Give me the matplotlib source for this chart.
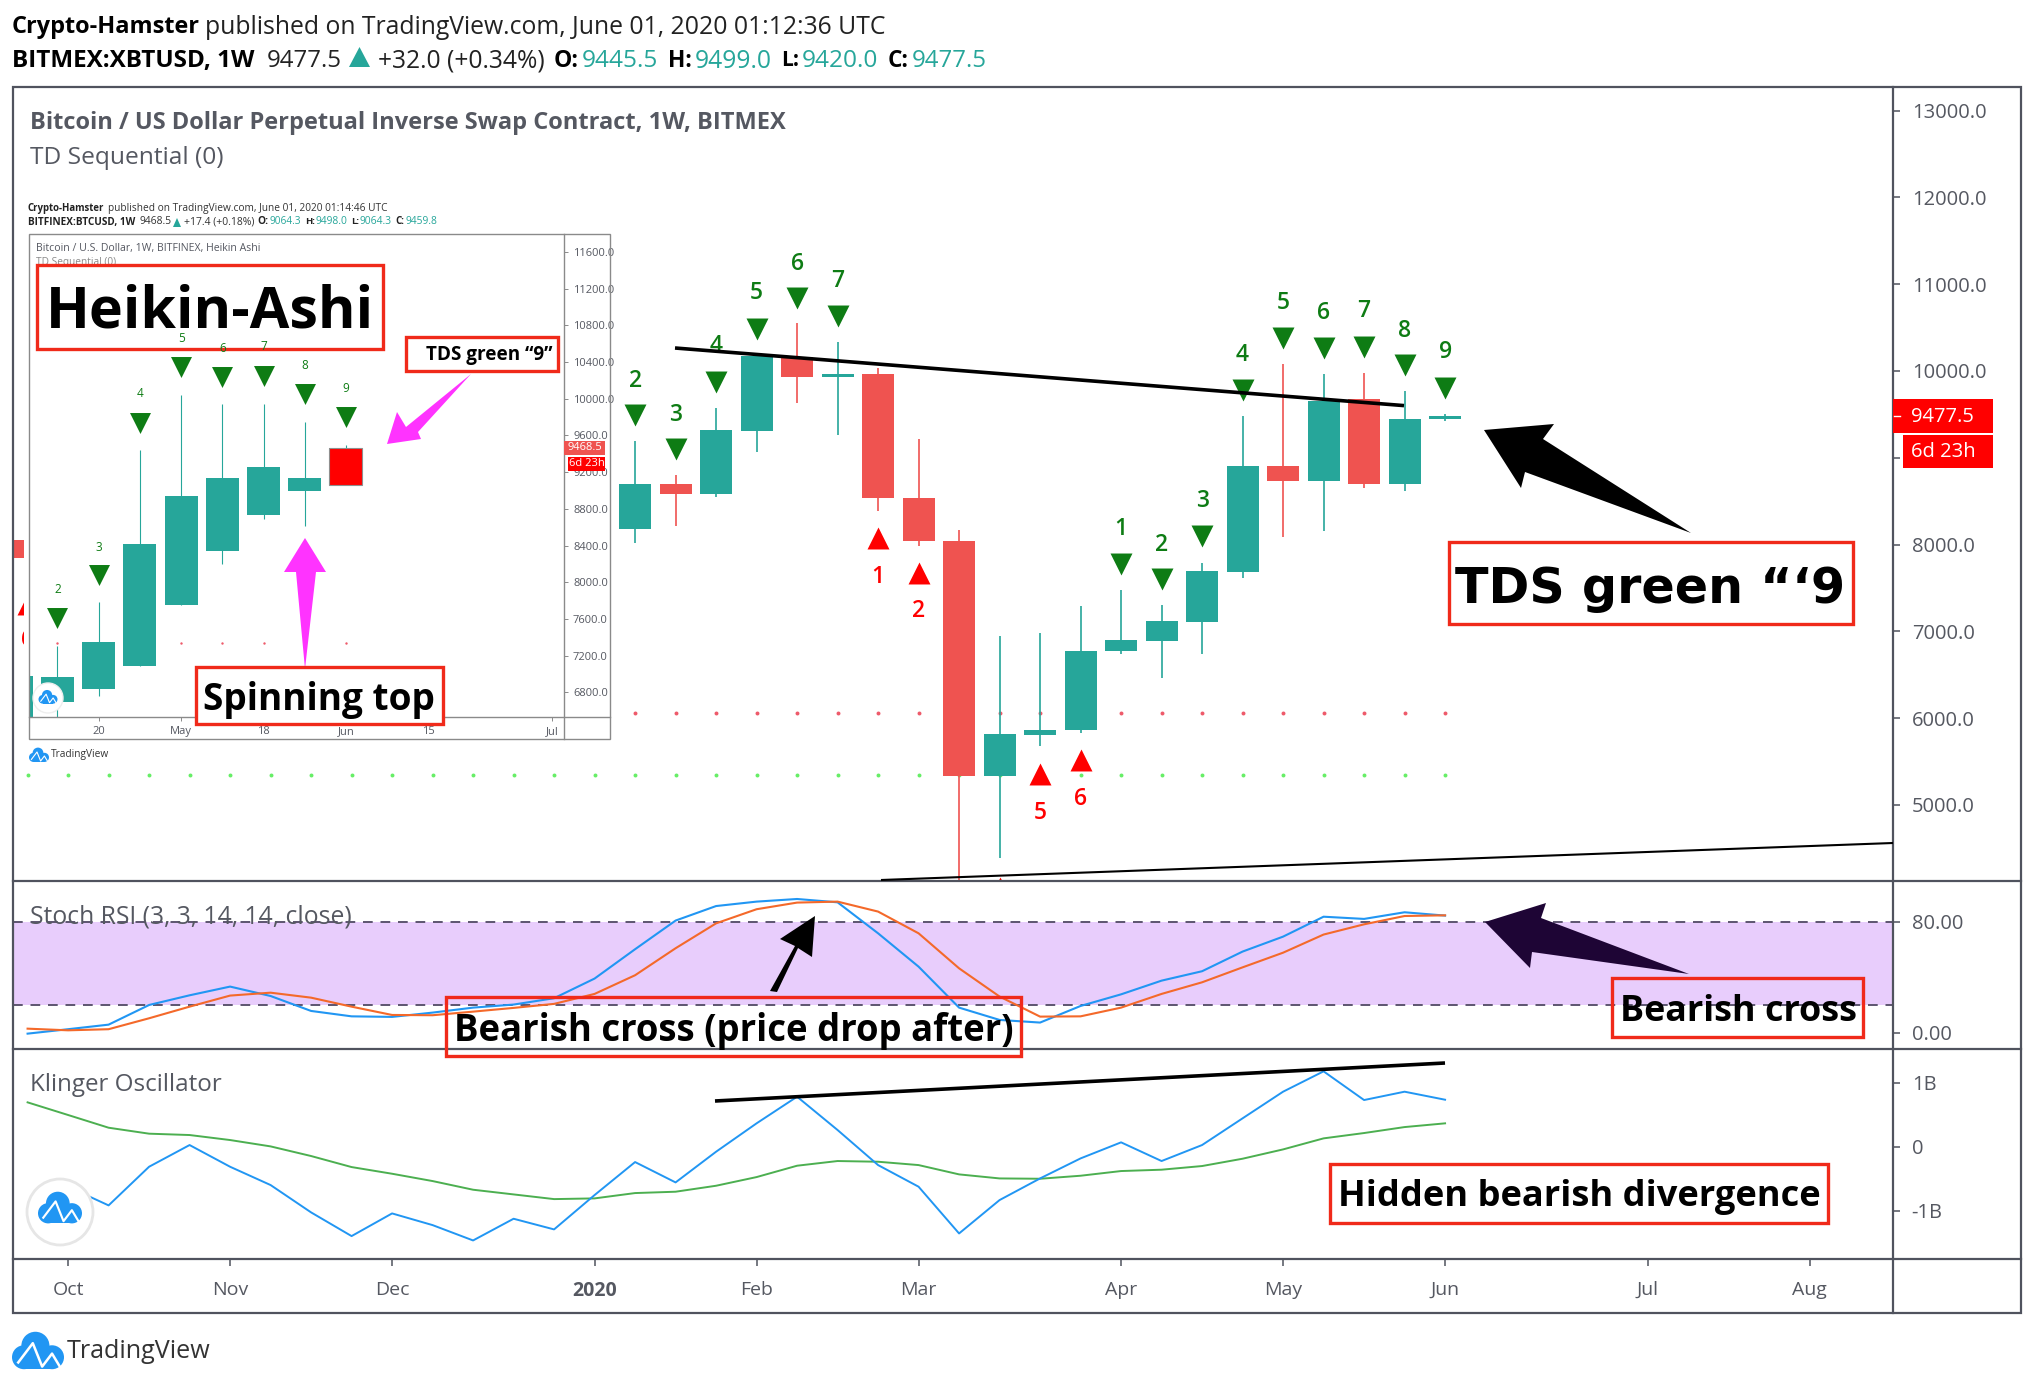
import matplotlib
matplotlib.use('Agg')
import matplotlib.pyplot as plt
from matplotlib.patches import Rectangle, Polygon, Circle

W, H = 2034, 1386
FONT = 'Open Sans'
plt.rcParams['font.family'] = [FONT, 'DejaVu Sans']

TEAL, RED = '#26a69a', '#ef5350'
TRI_GREEN, TRI_RED = '#0e7c14', '#ff0000'
FRAME = '#50535e'
TEXT_GREY = '#555861'

# ---------- main price pane ----------
weeks = [-35, -20, -19, -18, -17, -16, -15, -14, -13, -12, -11, -10, -9, -8, -7, -6, -5, -4, -3, -2, -1, 0]
opens = [8053, 8182, 8697, 8587, 9311, 10166, 9926, 9966, 8537, 8037, 5330, 5809, 5859, 6769, 6893, 7113, 7688, 8907, 8727, 9676, 8702, 9445.5]
closes = [7846, 8697, 8587, 9321, 10176, 9926, 9966, 8532, 8037, 5330, 5820, 5864, 6774, 6904, 7118, 7698, 8907, 8727, 9656, 8702, 9447, 9477.5]
highs = [8100, 9192, 8802, 9571, 10176, 10550, 10336, 10036, 9222, 8172, 6948, 6983, 7293, 7478, 7303, 7793, 9481, 10081, 9966, 9976, 9771, 9499]
lows = [7800, 8018, 8217, 8552, 9072, 9631, 9257, 8392, 7982, 3800, 4386, 5675, 5829, 6744, 6464, 6744, 7618, 8092, 8152, 8657, 8612, 9420]

down_weeks = [-20, -19, -18, -17, -16, -15, -8, -7, -6, -5, -4, -3, -2, -1, 0]
down_prices = [9491, 9102, 9871, 10481, 10845, 10630, 7773, 7603, 8098, 9776, 10376, 10261, 10276, 10066, 9801]
down_labels = ['2', '3', '4', '5', '6', '7', '1', '2', '3', '4', '5', '6', '7', '8', '9']
down_label_prices = [9916, 9526, 10316, 10930, 11270, 11070, 8207, 8027, 8537, 10216, 10815, 10695, 10720, 10490, 10246]
up_weeks = [-35, -14, -13, -11, -10, -9]
up_prices = [7316, 8077, 7673, 4045, 5355, 5520]
up_labels = ['6', '1', '2', '', '5', '6']
up_label_prices = [6935, 7653, 7268, 3700, 4945, 5095]
red_dot_weeks = list(range(-20, 1))
red_dot_price = 6064
green_dot_weeks = list(range(-35, 1))
green_dot_price = 5350
price_ticks = [13000, 12000, 11000, 10000, 9000, 8000, 7000, 6000, 5000]
price_tick_labels = ['13000.0', '12000.0', '11000.0', '10000.0', '', '8000.0', '7000.0', '6000.0', '5000.0']

# ---------- stochastic RSI ----------
osc_weeks = list(range(-35, 1))
stoch_k = [-0.7, 2.5, 5.8, 20.0, 27.0, 33.3, 26.5, 15.7, 11.8, 11.4, 14.5, 18.1, 20.3, 24.9, 39.1, 60.3, 81.0, 91.5,
           94.7, 96.6, 94.2, 71.8, 47.7, 18.1, 9.2, 7.3, 19.3, 27.7, 37.6, 44.4, 58.6, 69.4, 83.8, 82.2, 87.0, 84.6]
stoch_d = [2.9, 1.7, 2.5, 10.4, 18.8, 26.8, 28.9, 25.3, 18.8, 12.8, 12.6, 15.2, 17.9, 20.8, 28.0, 41.5, 61.0, 79.0,
           89.2, 94.0, 94.7, 87.5, 71.8, 46.5, 26.1, 11.6, 11.8, 18.1, 28.0, 36.4, 47.2, 57.8, 70.9, 78.3, 84.3, 84.8]

# ---------- Klinger oscillator (billions) ----------
klinger = [-0.997, -0.623, -0.914, -0.312, 0.026, -0.312, -0.597, -1.023, -1.392, -1.039, -1.221, -1.460, -1.122,
           -1.288, -0.753, -0.239, -0.556, -0.078, 0.364, 0.779, 0.260, -0.286, -0.623, -1.351, -0.831, -0.494,
           -0.182, 0.068, -0.223, 0.026, 0.442, 0.857, 1.174, 0.727, 0.857, 0.732]
klinger_signal = [0.691, 0.494, 0.296, 0.203, 0.182, 0.104, 0.005, -0.145, -0.317, -0.421, -0.535, -0.670, -0.743,
                  -0.816, -0.805, -0.722, -0.701, -0.608, -0.473, -0.296, -0.223, -0.234, -0.286, -0.431, -0.494,
                  -0.499, -0.452, -0.379, -0.358, -0.301, -0.187, -0.042, 0.130, 0.213, 0.306, 0.364]

# ---------- time axis ----------
date_ticks = [-34, -30, -26, -21, -17, -13, -8, -4, 0, 5, 9]
date_labels = ['Oct', 'Nov', 'Dec', '2020', 'Feb', 'Mar', 'Apr', 'May', 'Jun', 'Jul', 'Aug']

# ---------- inset Heikin-Ashi chart ----------
ins_weeks = [-8, -7, -6, -5, -4, -3, -2, -1, 0]
ins_opens = [6400, 6698, 6833, 7087, 7748, 8344, 8736, 8994, 9064.3]
ins_closes = [6978, 6967, 7345, 8413, 8940, 9132, 9252, 9132, 9459.8]
ins_highs = [6978, 7308, 7781, 9441, 10040, 9942, 9942, 9749, 9498]
ins_lows = [6400, 6500, 6764, 7087, 7748, 8198, 8689, 8616, 9064.3]
ins_tri_weeks = [-7, -6, -5, -4, -3, -2, -1, 0]
ins_tri_prices = [7610, 8079, 9739, 10345, 10236, 10247, 10051, 9801]
ins_tri_labels = ['2', '3', '4', '5', '6', '7', '8', '9']
ins_label_prices = [7941, 8398, 10073, 10672, 10563, 10585, 10378, 10128]
ins_dot_weeks = [-7, -4, -3, -2, 0]
ins_dot_price = 7337
ins_price_ticks = [11600, 11200, 10800, 10400, 10000, 9600, 9200, 8800, 8400, 8000, 7600, 7200, 6800]
ins_date_ticks = [-6, -4, -2, 0, 2, 5]
ins_date_labels = ['20', 'May', '18', 'Jun', '15', 'Jul']

fig = plt.figure(figsize=(W / 100, H / 100), dpi=100, facecolor='white')


def px_ax(x0, y0, x1, y1, z=1):
    a = fig.add_axes([x0 / W, 1 - y1 / H, (x1 - x0) / W, (y1 - y0) / H], zorder=z)
    for s in a.spines.values():
        s.set_visible(False)
    return a


def candles(a, xs, os_, cs, hs, ls, width, lw, colors):
    for x, o, c, h, l in zip(xs, os_, cs, hs, ls):
        col = colors[0] if c >= o else colors[1]
        a.vlines(x, l, h, color=col, lw=lw, zorder=3)
        a.bar(x, abs(c - o), bottom=min(o, c), width=width, color=col, zorder=3, lw=0)


XLIM = (-35.36, 11.06)

# main pane
ax = px_ax(13, 87, 1893, 881)
ax.set_xlim(*XLIM)
ax.set_ylim(4124, 13272)
ax.scatter(red_dot_weeks, [red_dot_price] * len(red_dot_weeks), s=8, color='#ee5a6a', lw=0, zorder=2)
ax.scatter(green_dot_weeks, [green_dot_price] * len(green_dot_weeks), s=8, color='#66ee66', lw=0, zorder=2)
candles(ax, weeks, opens, closes, highs, lows, 0.79, 1.2, (TEAL, RED))
ax.scatter(down_weeks, down_prices, marker='v', s=250, color=TRI_GREEN, lw=0, zorder=4)
ax.scatter(up_weeks, up_prices, marker='^', s=250, color=TRI_RED, lw=0, zorder=4)
for x, p, s in zip(down_weeks, down_label_prices, down_labels):
    ax.annotate(s, (x, p), xytext=(0, -2), textcoords='offset points', color=TRI_GREEN, fontsize=16.5,
                fontweight='semibold', ha='center', va='center', zorder=5)
for x, p, s in zip(up_weeks, up_label_prices, up_labels):
    if s:
        ax.annotate(s, (x, p), xytext=(0, -2), textcoords='offset points', color=TRI_RED, fontsize=16.5,
                    fontweight='semibold', ha='center', va='center', zorder=5)
ax.set_xticks([])
ax.set_yticks(price_ticks)
ax.set_yticklabels(price_tick_labels)
ax.yaxis.tick_right()
ax.tick_params(axis='y', length=5, width=1.1, color=FRAME, labelcolor=TEXT_GREY, labelsize=14.5, pad=8.5)

# stoch pane
ax2 = px_ax(13, 881, 1893, 1049)
ax2.set_xlim(*XLIM)
ax2.set_ylim(-11.8, 109.6)
ax2.axhspan(20, 80, color='#e8cdfc', lw=0, zorder=1)
ax2.hlines([20, 80], *XLIM, color='#5d5570', lw=1.4, linestyles=(0, (5, 4)), zorder=2)
ax2.plot(osc_weeks, stoch_k, color='#2196f3', lw=1.5, zorder=3)
ax2.plot(osc_weeks, stoch_d, color='#f4692a', lw=1.5, zorder=3)
ax2.set_xticks([])
ax2.set_yticks([80, 0])
ax2.set_yticklabels(['80.00', '0.00'])
ax2.yaxis.tick_right()
ax2.tick_params(axis='y', length=5, width=1.1, color=FRAME, labelcolor=TEXT_GREY, labelsize=14.5, pad=8.5)

# klinger pane
ax3 = px_ax(13, 1049, 1893, 1259)
ax3.set_xlim(*XLIM)
ax3.set_ylim(-1.749, 1.522)
ax3.plot(osc_weeks, klinger_signal, color='#4caf50', lw=1.4, zorder=3)
ax3.plot(osc_weeks, klinger, color='#2196f3', lw=1.4, zorder=3)
ax3.set_yticks([1, 0, -1])
ax3.set_yticklabels(['1B', '0', '-1B'])
ax3.yaxis.tick_right()
ax3.tick_params(axis='y', length=5, width=1.1, color=FRAME, labelcolor=TEXT_GREY, labelsize=14.5, pad=8.5)
ax3.set_xticks(date_ticks)
ax3.set_xticklabels(date_labels)
ax3.tick_params(axis='x', length=5, width=1.1, color=FRAME, labelcolor=TEXT_GREY, labelsize=14, pad=11)
ax3.get_xticklabels()[3].set_fontweight('bold')

# white sheet behind the pasted inset
sheet = px_ax(24, 195, 612, 765, z=4)
sheet.set_xticks([])
sheet.set_yticks([])
sheet.set_facecolor('white')

# inset
ins = px_ax(28.6, 234, 564, 717, z=5)
ins.set_xlim(-7.7, 5.29)
ins.set_ylim(6531, 11795)
ins.set_facecolor('none')
ins.scatter(ins_dot_weeks, [ins_dot_price] * len(ins_dot_weeks), s=3, color='#ee5a6a', lw=0, zorder=2)
candles(ins, ins_weeks, ins_opens, ins_closes, ins_highs, ins_lows, 0.8, 0.8, (TEAL, RED))
ins.bar(ins_weeks[-1], ins_closes[-1] - ins_opens[-1], bottom=ins_opens[-1], width=0.8, color='#ff0000',
        edgecolor='#8f8f8f', lw=0.8, zorder=4)
ins.scatter(ins_tri_weeks, ins_tri_prices, marker='v', s=228, color=TRI_GREEN, lw=0, zorder=4)
ins.set_yticks(ins_price_ticks)
ins.set_yticklabels(['%.1f' % p for p in ins_price_ticks])
ins.yaxis.tick_right()
ins.set_xticks(ins_date_ticks)
ins.set_xticklabels(ins_date_labels)
ins.tick_params(axis='both', length=3, width=0.7, color='#8a8a8a', labelcolor=TEXT_GREY, labelsize=8, pad=3.5)

# ---------- overlay in pixel coordinates ----------
ov = fig.add_axes([0, 0, 1, 1], zorder=10)
ov.set_xlim(0, W)
ov.set_ylim(H, 0)
ov.axis('off')
ov.patch.set_alpha(0)
renderer = fig.canvas.get_renderer()

# the inset's count labels print over the Heikin-Ashi box, so they sit in the top layer
for x, p, s in zip(ins_tri_weeks, ins_label_prices, ins_tri_labels):
    ov.annotate(s, (x, p), xycoords=ins.transData, xytext=(0, -1), textcoords='offset points', color=TRI_GREEN,
                fontsize=8.5, ha='center', va='center', zorder=7)


def fit(text, x0, x1, yc, color='black', weight='normal', family=FONT, z=2):
    t = ov.text(x0, yc + 3, text, color=color, fontweight=weight, family=family, fontsize=20,
                ha='left', va='center', zorder=z)
    w = t.get_window_extent(renderer).width
    t.set_fontsize(20 * (x1 - x0) / w)
    return t


def box(x0, y0, x1, y1, fill=False):
    ov.add_patch(Rectangle((x0, y0), x1 - x0, y1 - y0, fill=fill, facecolor='white', edgecolor='#f02a1a',
                           lw=2.4, zorder=5))


def poly(pts, color):
    ov.add_patch(Polygon(pts, closed=True, facecolor=color, edgecolor='none', zorder=5))


def cloud(cx, cy, w, c='#2196f3', z=6):
    for dx, dy, r in ((-.27, .12, .23), (.27, .12, .23), (-.05, -.1, .27)):
        ov.add_patch(Circle((cx + dx * w, cy + dy * w), r * w, facecolor=c, edgecolor='none', zorder=z))
    ov.add_patch(Rectangle((cx - .27 * w, cy), .54 * w, .35 * w, facecolor=c, edgecolor='none', zorder=z))
    ov.plot([cx + a * w for a in (-.38, -.1, .08, .27, .42)],
            [cy + b * w for b in (.22, -.15, .3, .05, .3)], color='white', lw=max(0.8, w * .035), zorder=z + 1)


# frame
ov.add_patch(Rectangle((13, 87), 2008, 1226, fill=False, edgecolor=FRAME, lw=1.6, zorder=3))
ov.plot([13, 2021], [881, 881], color=FRAME, lw=1.6, zorder=3)
ov.plot([13, 2021], [1049, 1049], color=FRAME, lw=1.6, zorder=3)
ov.plot([13, 2021], [1259, 1259], color=FRAME, lw=1.6, zorder=3)
ov.plot([1893, 1893], [87, 1313], color=FRAME, lw=1.6, zorder=3)

# header
fit('Crypto-Hamster', 12, 199, 24, weight='bold')
fit('published on TradingView.com, June 01, 2020 01:12:36 UTC', 205, 885, 24, color='#222222')
fit('BITMEX:XBTUSD, 1W', 12, 255, 58, weight='bold')
fit('9477.5', 267, 342, 58, color='#222222')
ov.add_patch(Polygon([(349, 67), (370, 67), (359.5, 47)], facecolor=TEAL, edgecolor='none'))
fit('+32.0 (+0.34%)', 378, 545, 58, color='#222222')
for lab, x0, x1, val, v0, v1 in (('O:', 554, 579, '9445.5', 582, 658), ('H:', 668, 692, '9499.0', 695, 772),
                                 ('L:', 781, 799, '9420.0', 802, 878), ('C:', 888, 909, '9477.5', 912, 987)):
    fit(lab, x0, x1, 58, weight='bold')
    fit(val, v0, v1, 58, color=TEAL)

# pane titles
fit('Bitcoin / US Dollar Perpetual Inverse Swap Contract, 1W, BITMEX', 30, 784, 120, color=TEXT_GREY, weight='bold')
fit('TD Sequential (0)', 30, 223, 155, color=TEXT_GREY)
fit('Stoch RSI (3, 3, 14, 14, close)', 30, 352, 914, color=TEXT_GREY)
fit('Klinger Oscillator', 30, 221, 1082, color=TEXT_GREY)

# inset furniture
ov.add_patch(Rectangle((28.6, 234), 581.4, 505, fill=False, edgecolor='#8a8a8a', lw=1, zorder=1.5))
ov.plot([564, 564], [234, 739], color='#8a8a8a', lw=1, zorder=1.5)
ov.plot([28.6, 610], [717, 717], color='#8a8a8a', lw=1, zorder=1.5)
fit('Crypto-Hamster', 28, 105, 205, weight='bold', color='#222222')
fit('published on TradingView.com, June 01, 2020 01:14:46 UTC', 108, 388, 205, color='#333333')
fit('BITFINEX:BTCUSD, 1W', 28, 135, 219, weight='bold', color='#222222')
fit('9468.5', 139, 171, 219, color='#333333')
ov.add_patch(Polygon([(173, 227), (181, 227), (177, 218)], facecolor=TEAL, edgecolor='none'))
fit('+17.4 (+0.18%)', 184, 254, 219, color='#333333')
for lab, x0, x1, val, v0, v1 in (('O:', 257, 268, '9064.3', 269, 300), ('H:', 305, 315, '9498.0', 316, 348),
                                 ('L:', 351, 359, '9064.3', 360, 392), ('C:', 395, 404, '9459.8', 405, 437)):
    fit(lab, x0, x1, 219, weight='bold', color='#222222')
    fit(val, v0, v1, 219, color=TEAL)
fit('Bitcoin / U.S. Dollar, 1W, BITFINEX, Heikin Ashi', 36, 259, 245, color=TEXT_GREY)
fit('TD Sequential (0)', 36, 116, 259, color='#8a8a8a')
ov.add_patch(Rectangle((564, 441), 41, 14, facecolor=RED, edgecolor='none', zorder=2))
ov.add_patch(Rectangle((568, 457), 37, 14, facecolor='#ff0000', edgecolor='none', zorder=2))
ov.text(585, 448, '9468.5', color='white', fontsize=8, ha='center', va='center', zorder=3)
ov.text(586.5, 464, '6d 23h', color='white', fontsize=8, ha='center', va='center', zorder=3)
ov.add_patch(Circle((48, 698), 15, facecolor='white', edgecolor='#eeeeee', lw=1, zorder=4))
cloud(48, 697, 19, z=4.1)
cloud(39, 755, 20, z=2)
fit('TradingView', 51, 109, 752, color='#333333')

# current-price tags
ov.add_patch(Rectangle((1893, 399), 100, 33.5, facecolor='#ff0000', edgecolor='none', zorder=4))
ov.add_patch(Rectangle((1903, 435), 90, 33, facecolor='#ff0000', edgecolor='none', zorder=4))
ov.plot([1894, 1900], [416, 416], color='white', lw=1, zorder=4.5)
ov.text(1911, 417, '9477.5', color='white', fontsize=14.5, ha='left', va='center', zorder=5)
ov.text(1911, 452, '6d 23h', color='white', fontsize=14.5, ha='left', va='center', zorder=5)

# trend lines
ov.plot([675, 1404], [348, 405.6], color='black', lw=2.6, solid_capstyle='butt', zorder=4)
ov.plot([881, 1893], [880, 843], color='black', lw=1.5, solid_capstyle='butt', zorder=4)
ov.plot([715, 1445], [1101, 1063], color='black', lw=2.6, solid_capstyle='butt', zorder=4)

# arrows
poly([(471, 374), (418, 432), (421, 439), (387, 444), (397, 412), (406, 427)], '#ff33ff')
poly([(305, 538), (326, 572), (316, 572), (305, 669), (296, 572), (284, 572)], '#ff33ff')
poly([(1691, 533), (1543, 439), (1554, 424), (1484, 430), (1521, 488), (1525, 472)], 'black')
poly([(770, 991), (795, 946), (780, 939), (815, 916), (812, 957), (798, 948), (777, 992)], 'black')
poly([(1689, 974), (1541, 918), (1546, 903), (1485, 922), (1530, 968), (1532, 952)], '#1e0535')

# annotation boxes
box(37, 265, 383, 349, fill=True)
fit('Heikin-Ashi', 46, 374, 309, weight='bold', z=6)
box(406, 337, 558, 371, fill=True)
fit('TDS green “9”', 426, 552, 352, weight='bold', z=6)
box(196, 667, 443, 724, fill=True)
fit('Spinning top', 203, 435, 697, weight='bold', z=6)
box(1449, 542, 1853, 624, fill=True)
fit('TDS green “‘9', 1455, 1845, 586, weight='bold', family='DejaVu Sans', z=6)
box(446, 997, 1021, 1056)
fit('Bearish cross (price drop after)', 454, 1014, 1028, weight='bold', z=6)
box(1612, 978, 1863, 1037)
fit('Bearish cross', 1620, 1857, 1009, weight='bold', z=6)
box(1330, 1164, 1828, 1223, fill=True)
fit('Hidden bearish divergence', 1338, 1821, 1194, weight='bold', z=6)

# logos
ov.add_patch(Circle((60, 1212), 33, facecolor='white', edgecolor='#e6e6e6', lw=2, zorder=4))
cloud(60, 1208, 44, z=4.1)
cloud(38, 1351, 52)
fit('TradingView', 67, 210, 1348, color='#333333')

fig.savefig('out.png', dpi=100, facecolor='white')
